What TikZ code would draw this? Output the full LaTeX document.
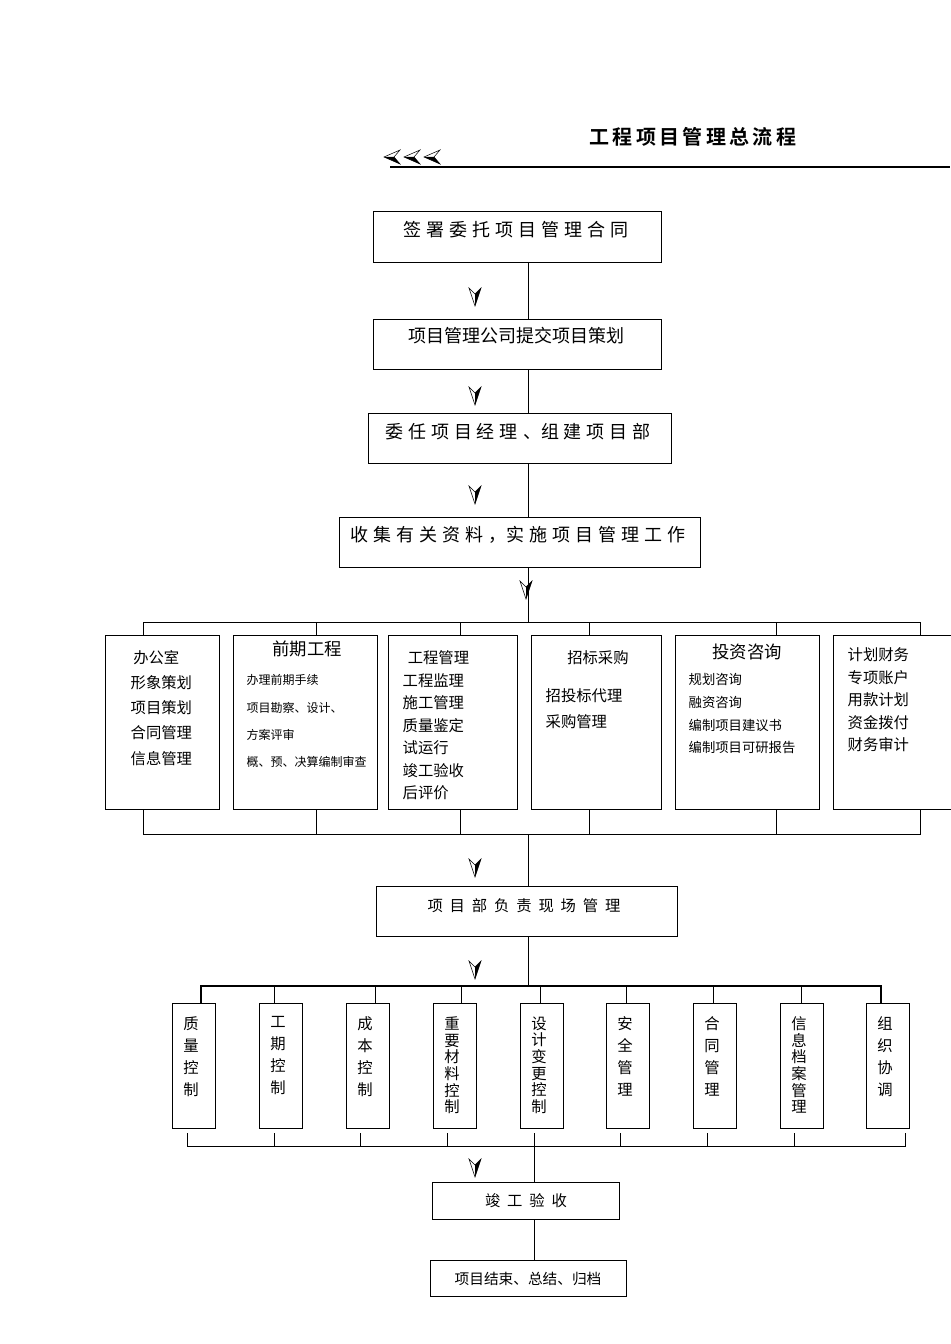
\documentclass[tikz,border=0pt]{standalone}
\usepackage{fontspec}
\setmainfont{Noto Sans CJK SC}
\newfontfamily\tfont{Noto Sans CJK SC Bold}
\newcommand\bxx[5]{\draw[line width=0.7pt] (#2,#3) rectangle (#4,#5); \coordinate (#1) at ({(#2+#4)/2},{(#3+#5)/2});}
\begin{document}
\begin{tikzpicture}[x=0.75pt,y=-0.75pt,
 ln/.style={line width=0.6pt},
 chev/.pic={\draw[line width=0.4pt] (-6,-9) -- (0,9) -- (6,-9) -- (0,-3) -- cycle;
   \fill (0,9) -- (6,-9) -- (0,-3) -- cycle;},
 lt/.pic={\draw[line width=0.4pt] (8,-7) -- (-8,0) -- (8,7) -- (2,0) -- cycle; \fill (-8,0)--(8,7)--(2,0)--cycle;}]
\useasboundingbox (0,0) rectangle (950,1344);
\node[font={\tfont\fontsize{15}{15}\selectfont}] (title) at (693,137) {工\,程\,项\,目\,管\,理\,总\,流\,程};
\coordinate (hl) at (390,167); \coordinate (hr) at (950,167);
\draw[line width=1pt] (hl) -- (hr);
\pic at (392,157) {lt}; \pic at (412,157) {lt}; \pic at (432,157) {lt};
% main boxes
\bxx{b1}{373}{211}{661}{262}
\node[font=\fontsize{13.5}{13}\selectfont] at (516,230) {签\;署\;委\;托\;项\;目\;管\;理\;合\;同};
\bxx{b2}{373}{319}{661}{369}
\node[font=\fontsize{13.5}{13}\selectfont] at (516,336) {项目管理公司提交项目策划};
\bxx{b3}{368}{413}{671}{463}
\node[font=\fontsize{13.5}{13}\selectfont] at (518,432) {委\;任\;项\;目\;经\;理\;、组\;建\;项\;目\;部};
\bxx{b4}{339}{517}{700}{567}
\node[font=\fontsize{13.5}{13}\selectfont] at (518,535) {收\;集\;有\;关\;资\;料\;，实\;施\;项\;目\;管\;理\;工\;作};
\draw[ln] (528,262) -- (528,319);
\draw[ln] (528,369) -- (528,413);
\draw[ln] (528,463) -- (528,517);
\draw[ln] (528,567) -- (528,622);
\pic at (475,297) {chev}; \pic at (475,396) {chev}; \pic at (475,495) {chev}; \pic at (526,590) {chev};
% row boxes
\draw[ln] (143,635) -- (143,622) -- (920,622) -- (920,635);
\foreach \x in {316,460,589,776} \draw[ln] (\x,622) -- (\x,635);
\draw[ln] (143,809) -- (143,834) -- (920,834) -- (920,809);
\foreach \x in {316,460,589,776} \draw[ln] (\x,809) -- (\x,834);
\bxx{r1}{105}{635}{219}{809}
\bxx{r2}{233}{635}{377}{809}
\bxx{r3}{388}{635}{517}{809}
\bxx{r4}{531}{635}{661}{809}
\bxx{r5}{675}{635}{819}{809}
\draw[line width=0.7pt] (955,635) -- (833,635) -- (833,809) -- (955,809);
\begin{scope}[every node/.style={font=\fontsize{11.5}{18.8}\selectfont,align=left,anchor=north west}]
\node at (126,646) {\,办公室\\形象策划\\项目策划\\合同管理\\信息管理};
\node[font=\fontsize{11.5}{16.9}\selectfont] at (398,646) {\,\,工程管理\\工程监理\\施工管理\\质量鉴定\\试运行\\竣工验收\\后评价};
\node at (560,646) {\,招标采购};
\node[font=\fontsize{11.5}{19.5}\selectfont] at (541,684) {招投标代理\\采购管理};
\node[font=\fontsize{11.5}{16.9}\selectfont] at (843,643) {计划财务\\专项账户\\用款计划\\资金拨付\\财务审计};
\end{scope}
\node[font=\fontsize{13}{13}\selectfont] at (307,649) {前期工程};
\node[font=\fontsize{13}{13}\selectfont] at (747,652) {投资咨询};
\node[font=\fontsize{9}{20.5}\selectfont,align=left,anchor=north west] at (242,670) {办理前期手续\\项目勘察、设计、\\方案评审\\概、预、决算编制审查};
\node[font=\fontsize{10}{17}\selectfont,align=left,anchor=north west] at (684,669) {规划咨询\\融资咨询\\编制项目建议书\\编制项目可研报告};
% site management
\draw[ln] (528,834) -- (528,886);
\pic at (475,868) {chev};
\bxx{pm}{376}{886}{677}{936}
\node[font=\fontsize{11.5}{12}\selectfont] at (524,906) {项\ \ 目\ \ 部\ \ 负\ \ 责\ \ 现\ \ 场\ \ 管\ \ 理};
\draw[ln] (528,936) -- (528,986);
\pic at (475,970) {chev};
\draw[line width=1pt] (201,1003) -- (201,986) -- (881,986) -- (881,1003);
\foreach \x in {274,375,461,540,626,713,801} \draw[ln] (\x,986) -- (\x,1003);
\foreach \l/\t [count=\i] in {172/{质\\[4pt]量\\[4pt]控\\[4pt]制},259/{工\\[4pt]期\\[4pt]控\\[4pt]制},346/{成\\[4pt]本\\[4pt]控\\[4pt]制},433/{重\\要\\材\\料\\控\\制},520/{设\\计\\变\\更\\控\\制},606/{安\\[4pt]全\\[4pt]管\\[4pt]理},693/{合\\[4pt]同\\[4pt]管\\[4pt]理},780/{信\\息\\档\\案\\管\\理},866/{组\\[4pt]织\\[4pt]协\\[4pt]调}} {
 \bxx{s\i}{\l}{1003}{\l+43}{1128}
 \node[font=\fontsize{11.5}{12.5}\selectfont,align=center,anchor=north] at (\l+19,1012) {\t};
}
\draw[ln] (187,1133) -- (187,1146) -- (905,1146) -- (905,1133);
\foreach \x in {274,360,447,534,620,707,794} \draw[ln] (\x,1133) -- (\x,1146);
\draw[ln] (534,1146) -- (534,1182);
\pic at (475,1168) {chev};
\bxx{ac}{432}{1182}{619}{1219}
\node[font=\fontsize{11.5}{12}\selectfont] at (526,1201) {竣\ \ 工\ \ 验\ \ 收};
\draw[ln] (534,1219) -- (534,1260);
\bxx{end}{430}{1260}{626}{1296}
\node[font=\fontsize{11}{12}\selectfont] at (528,1279) {项目结束、总结、归档};
\end{tikzpicture}
\end{document}
